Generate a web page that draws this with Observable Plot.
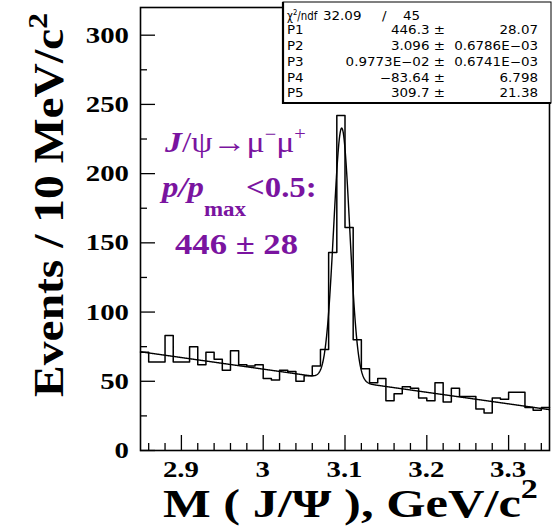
<!DOCTYPE html>
<html>
<head>
<meta charset="utf-8">
<script src="https://cdn.jsdelivr.net/npm/d3@7"></script>
<script src="https://cdn.jsdelivr.net/npm/@observablehq/plot@0.6"></script>
<style>
  html, body { margin: 0; padding: 0; background: #fff; }
  #chart svg { display: block; }
</style>
</head>
<body>
<div id="chart"></div>
<script>
// Dimuon invariant mass, 10 MeV bins: lower bin edges (GeV/c^2) and entries
const binLow = [
  2.85, 2.86, 2.87, 2.88, 2.89, 2.90, 2.91, 2.92, 2.93, 2.94,
  2.95, 2.96, 2.97, 2.98, 2.99, 3.00, 3.01, 3.02, 3.03, 3.04,
  3.05, 3.06, 3.07, 3.08, 3.09, 3.10, 3.11, 3.12, 3.13, 3.14,
  3.15, 3.16, 3.17, 3.18, 3.19, 3.20, 3.21, 3.22, 3.23, 3.24,
  3.25, 3.26, 3.27, 3.28, 3.29, 3.30, 3.31, 3.32, 3.33, 3.34
];
const counts = [
  71, 64, 64, 83, 64, 64, 75, 62, 71, 66,
  58, 72, 62, 61, 62, 52, 51, 58, 57, 50,
  54, 61, 73, 143, 242, 161, 80, 59, 49, 52,
  36, 41, 46, 45, 38, 36, 49, 35, 45, 39,
  39, 30, 27, 38, 37, 42, 42, 31, 29, 31
];
const binWidth = 0.01;

// Fit: Gaussian signal (P1 = yield, P2 = mean, P3 = sigma) + linear background (P4*x + P5)
const parNames   = ["P1", "P2", "P3", "P4", "P5"];
const parValues  = [446.3, 3.096, 0.9773e-2, -83.64, 309.7];
const parValText = ["446.3", "3.096", "0.9773E\u221202", "\u221283.64", "309.7"];
const parErrText = ["28.07", "0.6786E\u221203", "0.6741E\u221203", "6.798", "21.38"];
const chi2 = "32.09";
const ndf = "45";

// Axes
const xDomain = [2.85, 3.35];
const yDomain = [0, 320];
const xTicks = [2.9, 3, 3.1, 3.2, 3.3];
const xMinor = [2.86, 2.88, 2.92, 2.94, 2.96, 2.98, 3.02, 3.04, 3.06, 3.08,
                3.12, 3.14, 3.16, 3.18, 3.22, 3.24, 3.26, 3.28, 3.32, 3.34];
const yTicks = [0, 50, 100, 150, 200, 250, 300];
const yMinor = [25, 75, 125, 175, 225, 275];

const W = 559, H = 530;
const margin = {top: 7, right: 10, bottom: 80, left: 140};
const innerW = W - margin.left - margin.right;
const innerH = H - margin.top - margin.bottom;
const purple = "#7a14a0";
const serif = "'Liberation Serif', 'Times New Roman', serif";
const sans = "'DejaVu Sans', Verdana, sans-serif";

// Histogram outline as a step line (last bin closed at its upper edge)
const hist = binLow.map((x, i) => ({x, y: counts[i]}));
hist.push({x: binLow[binLow.length - 1] + binWidth, y: counts[counts.length - 1]});

// Fitted function sampled across the range
const [P1, P2, P3, P4, P5] = parValues;
const fitFn = x => P1 * binWidth / (Math.sqrt(2 * Math.PI) * P3) *
  Math.exp(-((x - P2) ** 2) / (2 * P3 * P3)) + P4 * x + P5;
const fit = d3.range(0, 1001).map(i => {
  const x = xDomain[0] + (xDomain[1] - xDomain[0]) * i / 1000;
  return {x, y: fitFn(x)};
});

const chart = Plot.plot({
  width: W,
  height: H,
  marginTop: margin.top,
  marginRight: margin.right,
  marginBottom: margin.bottom,
  marginLeft: margin.left,
  style: {background: "#fff", color: "#000", fontFamily: serif},
  x: {domain: xDomain, axis: null},
  y: {domain: yDomain, axis: null},
  marks: [
    Plot.line(hist, {x: "x", y: "y", curve: "step-after", stroke: "#000", strokeWidth: 1.5}),
    Plot.line(fit, {x: "x", y: "y", stroke: "#000", strokeWidth: 1.4}),
    // inward ticks along the bottom and left edges
    Plot.tickX(xTicks, {x: d => d, insetTop: innerH - 15, stroke: "#000", strokeWidth: 1.3}),
    Plot.tickX(xMinor, {x: d => d, insetTop: innerH - 7, stroke: "#000", strokeWidth: 1.3}),
    Plot.tickY(yTicks, {y: d => d, insetRight: innerW - 15, stroke: "#000", strokeWidth: 1.3}),
    Plot.tickY(yMinor, {y: d => d, insetRight: innerW - 7, stroke: "#000", strokeWidth: 1.3}),
    Plot.frame({stroke: "#000", strokeWidth: 1.6})
  ]
});
document.getElementById("chart").appendChild(chart);

const svg = d3.select(chart);
const xScale = chart.scale("x");
const yScale = chart.scale("y");

// Text with tspans, stretched horizontally (along its baseline) by sx or to a target length
function richText({x, y, rotate = 0, anchor = "start", length = null, sx = 1, size, family = serif,
                   weight = "normal", style = "normal", fill = "#000"}, parts) {
  const t = svg.append("text")
    .attr("text-anchor", anchor)
    .attr("font-family", family)
    .attr("font-size", size)
    .attr("font-weight", weight)
    .attr("font-style", style)
    .attr("fill", fill);
  parts.forEach(p => {
    const s = t.append("tspan").text(p.text);
    if (p.size) s.attr("font-size", p.size);
    if (p.dy) s.attr("dy", p.dy);
    if (p.style) s.attr("font-style", p.style);
    if (p.weight) s.attr("font-weight", p.weight);
  });
  if (length) {
    const w = t.node().getBBox().width;
    if (w > 0) sx = length / w;
  }
  t.attr("transform", `translate(${x},${y})` + (rotate ? ` rotate(${rotate})` : "") + ` scale(${sx},1)`);
  return t;
}

// Tick labels, placed through the chart's scales
xTicks.forEach(v => {
  richText({x: xScale.apply(v), y: 477, anchor: "middle", sx: 1.2, size: 24, weight: "bold"},
    [{text: String(v)}]);
});
yTicks.forEach(v => {
  richText({x: 129, y: yScale.apply(v) + 8, anchor: "end", sx: 1.2, size: 24, weight: "bold"},
    [{text: String(v)}]);
});

// Axis titles
richText({x: 163, y: 517, length: 375, size: 40, weight: "bold"}, [
  {text: "M ( J/\u03A8 ), GeV/c"},
  {text: "2", size: 27, dy: -19}
]);
richText({x: 63, y: 13, rotate: -90, anchor: "end", length: 384, size: 42, weight: "bold"}, [
  {text: "Events / 10 MeV/c"},
  {text: "2", size: 28, dy: -16}
]);

// Signal annotation
richText({x: 165, y: 152, length: 142, size: 30, fill: purple}, [
  {text: "J", style: "italic", weight: "bold"},
  {text: "/\u03C8\u2192\u03BC"},
  {text: "\u2212", size: 18, dy: -12},
  {text: "\u03BC", dy: 12},
  {text: "+", size: 18, dy: -12}
]);
richText({x: 162, y: 197, length: 158, size: 30, weight: "bold", fill: purple}, [
  {text: "p/p", style: "italic"},
  {text: "max", size: 21, dy: 19},
  {text: "<0.5:", dy: -19}
]);
richText({x: 175, y: 254, length: 123, size: 30, weight: "bold", fill: purple}, [
  {text: "446 \u00B1 28"}
]);

// Fit statistics box
const box = {x0: 283, y0: 2, x1: 551, y1: 103};
svg.append("rect")
  .attr("x", box.x0).attr("y", box.y0)
  .attr("width", box.x1 - box.x0).attr("height", box.y1 - box.y0)
  .attr("fill", "#fff").attr("stroke", "#000").attr("stroke-width", 1);
svg.append("line").attr("x1", box.x0).attr("x2", box.x0).attr("y1", box.y0).attr("y2", box.y1 + 1)
  .attr("stroke", "#000").attr("stroke-width", 2.2);
svg.append("line").attr("x1", box.x0).attr("x2", box.x1).attr("y1", box.y1).attr("y2", box.y1)
  .attr("stroke", "#000").attr("stroke-width", 2);

const statOpts = {family: sans, size: 12, sx: 1.12};
function statText(x, y, anchor, parts, extra = {}) {
  return richText({x, y, anchor, ...statOpts, ...extra}, parts);
}
statText(287, 20, "start", [
  {text: "\u03C7"}, {text: "2", size: 8, dy: -5}, {text: "/ndf", dy: 5}
], {length: 31});
statText(323, 20, "start", [{text: chi2}]);
statText(382, 20, "start", [{text: "/"}]);
statText(420, 20, "end", [{text: ndf}]);
const rowY = [34, 50, 66, 82, 97];
parNames.forEach((name, i) => {
  statText(287, rowY[i], "start", [{text: name}]);
  statText(445, rowY[i], "end", [{text: parValText[i] + " \u00B1"}]);
  statText(538, rowY[i], "end", [{text: parErrText[i]}]);
});
</script>
</body>
</html>
